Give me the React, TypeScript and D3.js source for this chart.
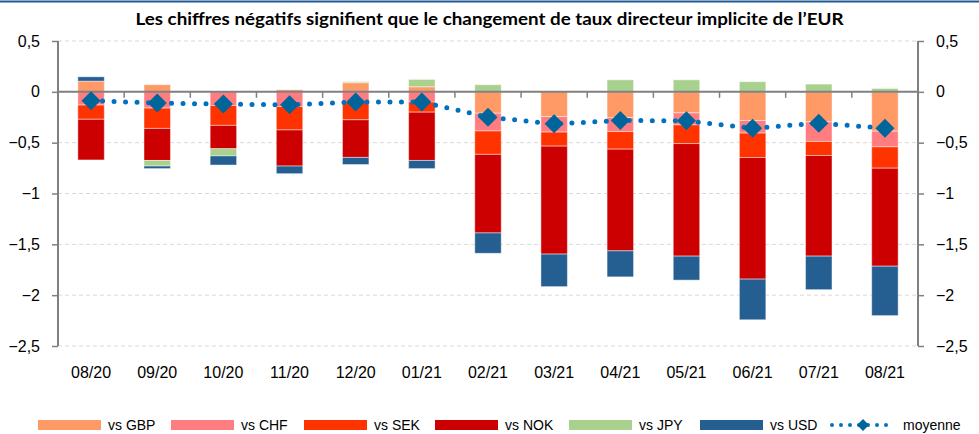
import React, { useEffect, useRef } from "react";
import * as d3 from "d3";

const categories = ["08/20", "09/20", "10/20", "11/20", "12/20", "01/21", "02/21", "03/21", "04/21", "05/21", "06/21", "07/21", "08/21"];
const seriesNames = ["vs GBP", "vs CHF", "vs SEK", "vs NOK", "vs JPY", "vs USD"];
const seriesColors = ["#FF9966", "#FF7C80", "#FF3300", "#CC0000", "#A9D18E", "#255E91"];

const gbp = [0.105, 0.07, 0, 0.02, 0.09, 0.05, -0.21, -0.243, -0.253, -0.207, -0.282, -0.295, -0.387];
const chf = [-0.13, -0.16, -0.135, -0.145, -0.103, -0.1, -0.175, -0.153, -0.138, -0.118, -0.124, -0.193, -0.154];
const sek = [-0.14, -0.2, -0.195, -0.23, -0.172, -0.1, -0.23, -0.138, -0.173, -0.184, -0.24, -0.138, -0.21];
const nok = [-0.4, -0.315, -0.23, -0.355, -0.37, -0.475, -0.773, -1.062, -1.0, -1.107, -1.196, -0.99, -0.964];
const jpy = [0, -0.055, -0.07, 0, 0.01, 0.072, 0.07, 0, 0.118, 0.118, 0.1, 0.076, 0.033];
const usd = [0.043, -0.025, -0.09, -0.075, -0.07, -0.08, -0.2, -0.32, -0.256, -0.236, -0.4, -0.33, -0.486];
const moyenne = [-0.087, -0.111, -0.12, -0.128, -0.1, -0.1, -0.249, -0.315, -0.282, -0.285, -0.358, -0.308, -0.357];

const yTicks = [0.5, 0, -0.5, -1, -1.5, -2, -2.5];
const title = "Les chiffres négatifs signifient que le changement de taux directeur implicite de l’EUR";

const App = () => {
  const svgRef = useRef<SVGSVGElement>(null);

  useEffect(() => {
    const width = 979, height = 434;
    const left = 58, right = 918, top = 41, bottom = 346;
    const font = "'Liberation Sans', Arial, sans-serif";

    const svg = d3.select(svgRef.current)
      .attr("width", width)
      .attr("height", height);
    svg.selectAll("*").remove();

    // lignes du tableau empilé
    const rows = categories.map((c, i) => [gbp[i], chf[i], sek[i], nok[i], jpy[i], usd[i]]);
    const stacked = d3.stack<number[], number>()
      .keys(d3.range(6))
      .value((d, k) => d[k])
      .offset(d3.stackOffsetDiverging)(rows);

    const x = d3.scaleBand<string>().domain(categories).range([left, right]).padding(0);
    const y = d3.scaleLinear().domain([-2.5, 0.5]).range([bottom, top]);
    const barW = x.bandwidth() * 0.4;

    // bordure bleue en haut
    svg.append("line")
      .attr("x1", 0).attr("x2", width).attr("y1", 1.5).attr("y2", 1.5)
      .attr("stroke", "#1F5A96").attr("stroke-width", 2);

    svg.append("text")
      .attr("x", width / 2).attr("y", 25)
      .attr("text-anchor", "middle")
      .attr("font-family", "Lato, 'Open Sans', sans-serif")
      .attr("font-weight", "bold")
      .attr("font-size", 17.5)
      .attr("textLength", 708)
      .attr("lengthAdjust", "spacingAndGlyphs")
      .attr("fill", "#000")
      .text(title);

    // grille
    svg.append("g").selectAll("line")
      .data(yTicks.filter(t => t !== 0))
      .enter().append("line")
      .attr("x1", left).attr("x2", right)
      .attr("y1", d => y(d)).attr("y2", d => y(d))
      .attr("stroke", "#D9D9D9").attr("stroke-width", 1)
      .attr("stroke-dasharray", "4,3");

    // barres
    svg.append("g").selectAll("g")
      .data(stacked)
      .enter().append("g")
      .attr("fill", (d, i) => seriesColors[i])
      .selectAll("rect")
      .data(d => d)
      .enter().append("rect")
      .attr("x", (d, i) => x(categories[i])! + (x.bandwidth() - barW) / 2)
      .attr("y", d => y(Math.max(d[0], d[1])))
      .attr("height", d => Math.abs(y(d[0]) - y(d[1])))
      .attr("width", barW)
      .attr("stroke", "rgba(255,255,255,0.45)")
      .attr("stroke-width", 1);

    // axe zéro + ticks de catégories
    svg.append("line")
      .attr("x1", left).attr("x2", right).attr("y1", y(0)).attr("y2", y(0))
      .attr("stroke", "#808080").attr("stroke-width", 2);
    svg.append("g").selectAll("line")
      .data(categories.slice(1))
      .enter().append("line")
      .attr("x1", d => x(d)!).attr("x2", d => x(d)!)
      .attr("y1", y(0)).attr("y2", y(0) + 6)
      .attr("stroke", "#808080").attr("stroke-width", 1.5);

    // axes verticaux
    const fmt = (d: d3.NumberValue) => d3.format(".1~f")(d as number).replace(".", ",");
    const yAxisL = d3.axisLeft(y).tickValues(yTicks).tickSize(6).tickFormat(fmt);
    const yAxisR = d3.axisRight(y).tickValues(yTicks).tickSize(6).tickFormat(fmt);

    const gl = svg.append("g").attr("transform", `translate(${left},0)`).call(yAxisL);
    const gr = svg.append("g").attr("transform", `translate(${right},0)`).call(yAxisR);
    [gl, gr].forEach(g => {
      g.select(".domain").attr("stroke", "#808080").attr("stroke-width", 2)
        .attr("d", `M0,${top}V${bottom}`);
      g.selectAll(".tick line").attr("stroke", "#808080").attr("stroke-width", 1.5);
      g.selectAll(".tick text").attr("font-family", font).attr("font-size", 16).attr("fill", "#000");
    });
    gl.selectAll(".tick text").attr("x", -18);
    gr.selectAll(".tick text").attr("x", 18);

    // libellés de l'axe x
    svg.append("g").selectAll("text")
      .data(categories)
      .enter().append("text")
      .attr("x", d => x(d)! + x.bandwidth() / 2)
      .attr("y", 378)
      .attr("text-anchor", "middle")
      .attr("font-family", font)
      .attr("font-size", 16)
      .attr("fill", "#000")
      .text(d => d);

    // moyenne
    const line = d3.line<number>()
      .x((d, i) => x(categories[i])! + x.bandwidth() / 2)
      .y(d => y(d));
    svg.append("path")
      .datum(moyenne)
      .attr("d", line)
      .attr("fill", "none")
      .attr("stroke", "#0070C0")
      .attr("stroke-width", 5)
      .attr("stroke-linecap", "round")
      .attr("stroke-dasharray", "0,11.5");

    const diamond = d3.symbol().type(d3.symbolDiamond2).size(230);
    svg.append("g").selectAll("path")
      .data(moyenne)
      .enter().append("path")
      .attr("d", diamond)
      .attr("transform", (d, i) => `translate(${x(categories[i])! + x.bandwidth() / 2},${y(d)})`)
      .attr("fill", "#00659A");

    // légende
    const legendY = 425;
    const swatchX = [38, 171, 304, 435, 569, 700];
    const leg = svg.append("g");
    seriesNames.forEach((name, i) => {
      leg.append("rect")
        .attr("x", swatchX[i]).attr("y", legendY - 5)
        .attr("width", 63).attr("height", 10)
        .attr("fill", seriesColors[i]);
      leg.append("text")
        .attr("x", swatchX[i] + 70).attr("y", legendY + 5)
        .attr("font-family", font).attr("font-size", 14).attr("fill", "#000")
        .text(name);
    });
    leg.append("line")
      .attr("x1", 832).attr("x2", 895).attr("y1", legendY).attr("y2", legendY)
      .attr("stroke", "#0070C0").attr("stroke-width", 4)
      .attr("stroke-linecap", "round").attr("stroke-dasharray", "0,9");
    leg.append("path")
      .attr("d", d3.symbol().type(d3.symbolDiamond2).size(90)())
      .attr("transform", `translate(863,${legendY})`)
      .attr("fill", "#00659A");
    leg.append("text")
      .attr("x", 903).attr("y", legendY + 5)
      .attr("font-family", font).attr("font-size", 14).attr("fill", "#000")
      .text("moyenne");
  }, []);

  return <svg ref={svgRef} style={{ position: "absolute", left: 0, top: 0 }}></svg>;
};

export default App;
